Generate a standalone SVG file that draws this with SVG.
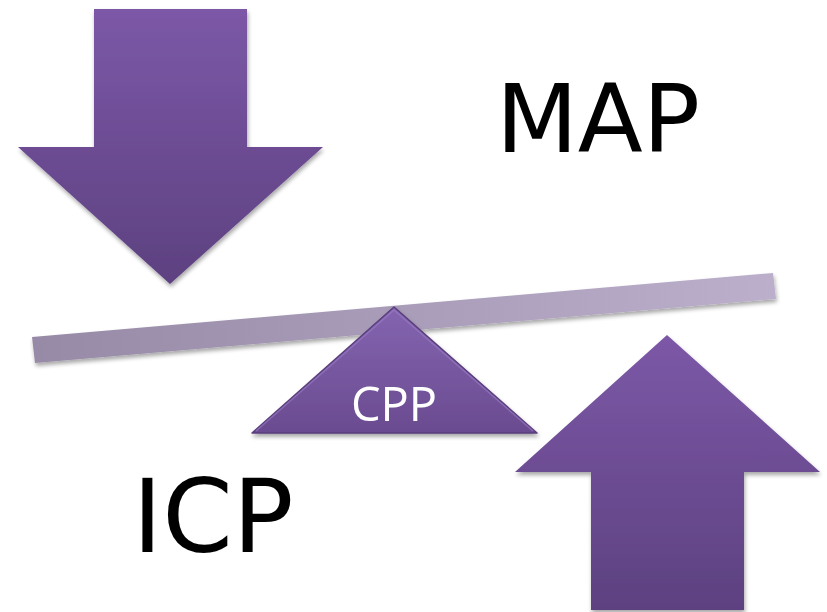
<svg xmlns="http://www.w3.org/2000/svg" width="827" height="612" viewBox="0 0 827 612">
  <defs>
    <linearGradient id="arrowFill" x1="0" y1="0" x2="0" y2="1">
      <stop offset="0" stop-color="#7c58a7"/>
      <stop offset="1" stop-color="#5d4180"/>
    </linearGradient>
    <linearGradient id="beamFill" x1="0" y1="0" x2="1" y2="0">
      <stop offset="0" stop-color="#968aa6"/>
      <stop offset="1" stop-color="#bcafcc"/>
    </linearGradient>
    <linearGradient id="pivotFill" x1="0" y1="0" x2="0" y2="1">
      <stop offset="0" stop-color="#8464b0"/>
      <stop offset="1" stop-color="#6a4b90"/>
    </linearGradient>
    <filter id="shadow" x="-10%" y="-10%" width="120%" height="120%">
      <feGaussianBlur in="SourceAlpha" stdDeviation="2"/>
      <feOffset dx="1" dy="3" result="b"/>
      <feComponentTransfer><feFuncA type="linear" slope="0.35"/></feComponentTransfer>
      <feMerge><feMergeNode/><feMergeNode in="SourceGraphic"/></feMerge>
    </filter>
    <style>
      .label { font-family: "DejaVu Sans", Verdana, sans-serif; fill: #000; }
      .pivot-label { font-family: "Open Sans", "DejaVu Sans", sans-serif; fill: #fff; }
    </style>
  </defs>

  <rect width="827" height="612" fill="#ffffff"/>

  <!-- downward pressure arrow -->
  <g id="arrow-down" filter="url(#shadow)">
    <polygon points="94,9 247,9 247,147 323,147 170,284 18,147 94,147" fill="url(#arrowFill)"/>
  </g>

  <!-- MAP label -->
  <g id="map">
    <text class="label" x="598" y="152" font-size="95" text-anchor="middle">MAP</text>
  </g>

  <!-- seesaw beam -->
  <g id="beam" filter="url(#shadow)">
    <polygon points="32,337 773,273 776,299 35,363" fill="url(#beamFill)"/>
  </g>

  <!-- fulcrum -->
  <g id="cpp" filter="url(#shadow)">
    <polygon points="394,307 537,433 252,433" fill="url(#pivotFill)" stroke="#5a3e7c" stroke-width="1.5" stroke-linejoin="round"/>
    <polyline points="256,431 394,310 533,431" fill="none" stroke="#9a7fc6" stroke-width="1.5" opacity="0.6"/>
    <text class="pivot-label" x="394" y="421" font-size="47" text-anchor="middle">CPP</text>
  </g>

  <!-- upward pressure arrow -->
  <g id="arrow-up" filter="url(#shadow)">
    <polygon points="667,335 820,472 744,472 744,610 591,610 591,472 515,472" fill="url(#arrowFill)"/>
  </g>

  <!-- ICP label -->
  <g id="icp">
    <text class="label" x="213" y="552" font-size="101" text-anchor="middle">ICP</text>
  </g>
</svg>
